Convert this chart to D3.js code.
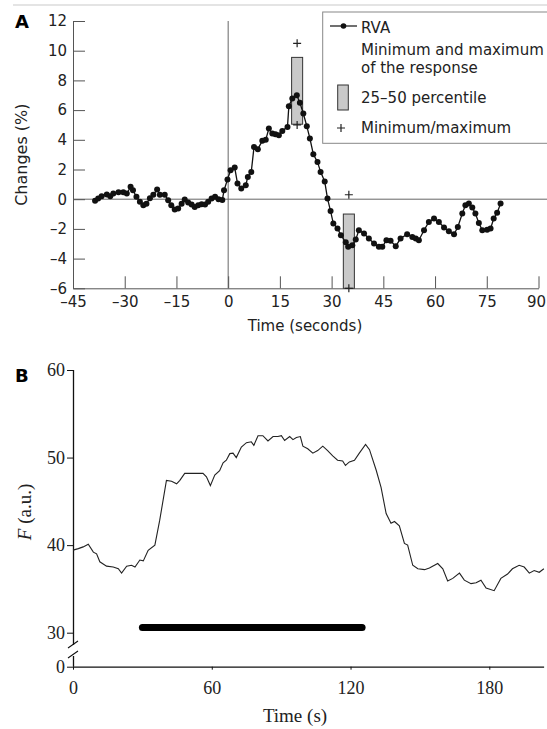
<!DOCTYPE html>
<html>
<head>
<meta charset="utf-8">
<script src="https://cdn.jsdelivr.net/npm/d3@7"></script>
<style>
  body { margin: 0; background: #fff; }
  svg { display: block; }
</style>
</head>
<body>
<div id="chart"></div>
<script>
// panel A : RVA changes (%)
const rvaTime = [-38.6, -37.7, -36.7, -35.2, -34.2, -33.3, -31.8, -30.4, -29.4, -28.3, -27.6, -26.6, -25.6, -24.6, -23.7,
  -22.7, -21.7, -20.6, -19.8, -18.4, -17.4, -16.5, -15.5, -14.5, -13.5, -12.6, -11.6, -10.6, -9.7, -8.7, -7.7, -6.7,
  -5.8, -4.8, -3.8, -2.8, -1.7, -1.2, -0.2, 0.7, 1.9, 2.7, 3.8, 5.1, 5.7, 6.7, 7.5, 8.6, 9.9, 10.9, 11.8, 12.8, 13.7,
  14.7, 15.7, 17.2, 17.6, 18.6, 19.9, 20.8, 21.8, 22.8, 23.7, 24.7, 25.9, 26.8, 28.0, 28.8, 29.7, 30.5, 31.7, 32.7,
  34.1, 34.8, 36.0, 37.0, 37.9, 39.4, 40.8, 42.3, 43.7, 44.7, 45.9, 47.1, 48.6, 50.0, 51.9, 53.4, 54.4, 55.3, 56.8,
  58.2, 59.7, 61.1, 62.6, 64.0, 65.5, 66.6, 67.9, 68.8, 69.8, 70.8, 71.7, 72.7, 73.7, 75.1, 76.1, 77.0, 78.0, 79.0];
const rvaChange = [-0.11, 0.05, 0.2, 0.32, 0.2, 0.38, 0.47, 0.47, 0.38, 0.83, 0.6, 0.16, -0.18, -0.4, -0.3,
  0.07, 0.3, 0.65, 0.3, 0.3, -0.07, -0.4, -0.7, -0.63, -0.3, -0.02, -0.22, -0.36, -0.52, -0.4, -0.34, -0.36,
  -0.18, 0.05, 0.16, 0.0, -0.05, 0.6, 1.33, 1.95, 2.13, 1.06, 0.72, 0.94, 1.5, 1.84, 3.52, 3.37, 3.93, 4.0, 4.76, 4.42, 4.38,
  4.3, 4.6, 4.87, 6.26, 6.78, 7.0, 6.49, 5.77, 4.92, 4.09, 3.03, 2.51, 1.84, 1.2, 0.05, -0.8, -1.64, -1.97, -2.42,
  -2.9, -3.21, -3.1, -2.72, -2.09, -2.31, -2.65, -2.98, -3.21, -3.21, -2.76, -2.8, -3.16, -2.65, -2.36, -2.54, -2.65, -2.76, -2.09,
  -1.53, -1.3, -1.53, -1.91, -2.16, -2.36, -1.87, -0.96, -0.4, -0.29, -0.56, -0.96, -1.6, -2.09, -2.05, -1.98, -1.3, -0.92, -0.29];

// 25-50 percentile boxes and min / max of the response
const boxTime = [20, 35];
const boxLow = [5.05, -6];
const boxHigh = [9.55, -1];
const respMin = [5.0, -6];
const respMax = [10.5, 0.3];

const aXTicks = [-45, -30, -15, 0, 15, 30, 45, 60, 75, 90];
const aYTicks = [-6, -4, -2, 0, 2, 4, 6, 8, 10, 12];
const legendLines = ["RVA", "Minimum and maximum", "of the response", "25\u201350 percentile", "Minimum/maximum"];

// panel B : F (a.u.)
const fTime = [0, 2.3, 4.4, 6.6, 8.8, 10.2, 11.6, 14.5, 17.4, 19.6, 21, 23.2, 25.3, 26.8, 28.9, 30.4, 32.5, 35.4, 37.5,
  40.4, 42.6, 44.8, 46.2, 48.3, 51.2, 54.1, 56.2, 57.7, 59.4, 61.3, 63.4, 64.9, 66.3, 67.8, 69.2, 70.6, 72.8, 75, 77.1,
  78.2, 80, 82.1, 84.3, 86.5, 88.6, 90.1, 91.5, 93.7, 95.1, 96.6, 98.3, 99.4, 101.5, 103.7, 105.8, 108, 110.1, 112.3,
  114.4, 116.6, 117.8, 119.5, 121.7, 123.8, 126.5, 128.2, 131.1, 133.2, 135.4, 137.5, 139, 141.1, 143.3, 144.7, 146.9,
  149.1, 152, 154.1, 157.7, 159.9, 162, 164.2, 167.1, 169.2, 172.1, 174.3, 176.4, 178.6, 182.1, 185, 187.9, 190, 192.9,
  195.1, 197.3, 199.4, 201.6, 203.6];
const fValue = [39.43, 39.6, 39.8, 40.1, 39.2, 39.0, 38.1, 37.6, 37.5, 37.3, 36.8, 37.6, 37.7, 37.5, 38.3, 38.2, 39.4, 40.0, 42.85,
  47.4, 47.3, 47.0, 47.4, 48.2, 48.2, 48.2, 48.2, 47.8, 46.8, 48.0, 48.5, 49.4, 49.7, 50.45, 50.5, 50.0, 51.2, 51.7, 51.8,
  51.4, 52.5, 52.5, 51.9, 52.4, 52.4, 52.5, 51.95, 52.4, 52.05, 52.3, 52.4, 51.3, 51.0, 50.5, 50.8, 51.3, 50.8, 50.2,
  49.7, 49.6, 49.1, 49.5, 49.7, 50.5, 51.5, 50.9, 48.55, 46.6, 43.6, 42.5, 42.7, 42.2, 40.2, 40.0, 37.7,
  37.3, 37.2, 37.4, 37.9, 37.3, 35.9, 36.2, 36.8, 36.0, 35.6, 35.7, 36.0, 35.1, 34.8, 36.2, 36.7, 37.3, 37.7,
  37.5, 36.8, 37.1, 36.9, 37.3];
const stimStart = 30;
const stimEnd = 125;
const stimLevel = 30.6;
const bXTicks = [0, 60, 120, 180];
const bYTicks = [0, 30, 40, 50, 60];

const w = 547, h = 729;
const sans = '"DejaVu Sans", sans-serif';
const serif = '"Liberation Serif", "DejaVu Serif", serif';

const svg = d3.select('#chart').append('svg')
  .attr('width', w)
  .attr('height', h);

// faint rule at the very top
svg.append('line')
  .attr('x1', 13).attr('x2', w).attr('y1', 5).attr('y2', 5)
  .attr('stroke', '#e4e4e4').attr('stroke-width', 2);

// ---------- panel A ----------
const xA = d3.scaleLinear().domain([-45, 90]).range([73, 538.5]);
const yA = d3.scaleLinear().domain([-6, 12]).range([288.3, 21]);
const dash = d => d < 0 ? '\u2013' + Math.abs(d) : String(d);

const gA = svg.append('g');

gA.append('text')
  .attr('x', 15).attr('y', 28)
  .attr('font-family', sans).attr('font-weight', 'bold').attr('font-size', 18)
  .text('A');

// reference lines at t = 0 and 0 %
gA.append('line')
  .attr('x1', xA(0)).attr('x2', xA(0)).attr('y1', yA(12)).attr('y2', yA(-6))
  .attr('stroke', '#666').attr('stroke-width', 1);
gA.append('line')
  .attr('x1', xA(-45)).attr('x2', w).attr('y1', yA(0)).attr('y2', yA(0))
  .attr('stroke', '#666').attr('stroke-width', 1);

const axA_x = gA.append('g')
  .attr('transform', `translate(0,${yA(-6)})`)
  .call(d3.axisBottom(xA).tickValues(aXTicks).tickFormat(dash).tickSizeInner(-12).tickSizeOuter(0).tickPadding(8.5));
const axA_y = gA.append('g')
  .attr('transform', `translate(${xA(-45)},0)`)
  .call(d3.axisLeft(yA).tickValues(aYTicks).tickFormat(dash).tickSizeInner(-12).tickSizeOuter(0).tickPadding(6));
[axA_x, axA_y].forEach(ax => {
  ax.select('.domain').attr('stroke', '#555');
  ax.selectAll('.tick line').attr('stroke', '#555');
  ax.selectAll('.tick text').attr('font-family', sans).attr('font-size', 15).attr('fill', '#222');
});
// keep the last label inside the page
axA_x.selectAll('.tick text').filter(d => d === 90).attr('dx', -2.5);

gA.append('text')
  .attr('x', 305).attr('y', 331)
  .attr('text-anchor', 'middle')
  .attr('font-family', sans).attr('font-size', 15).attr('fill', '#222')
  .text('Time (seconds)');
gA.append('text')
  .attr('transform', `translate(27,${(yA(12) + yA(-6)) / 2}) rotate(-90)`)
  .attr('text-anchor', 'middle')
  .attr('font-family', sans).attr('font-size', 16).attr('fill', '#222')
  .text('Changes (%)');

// percentile boxes
const boxW = 3.2;
gA.selectAll('rect.box')
  .data(boxTime)
  .enter()
  .append('rect')
  .attr('class', 'box')
  .attr('x', d => xA(d - boxW / 2))
  .attr('width', d => xA(d + boxW / 2) - xA(d - boxW / 2))
  .attr('y', (d, i) => yA(boxHigh[i]))
  .attr('height', (d, i) => yA(boxLow[i]) - yA(boxHigh[i]))
  .attr('fill', '#c9c9c9').attr('stroke', '#333').attr('stroke-width', 1);

const plus = (g, x, y) => {
  g.append('path')
    .attr('d', `M${x - 4},${y}H${x + 4}M${x},${y - 4}V${y + 4}`)
    .attr('stroke', '#222').attr('stroke-width', 1.2);
};
boxTime.forEach((t, i) => {
  plus(gA, xA(t), yA(respMax[i]));
  plus(gA, xA(t), yA(respMin[i]));
});

// RVA line + dots
const rva = rvaTime.map((t, i) => [t, rvaChange[i]]);
gA.append('path')
  .datum(rva)
  .attr('d', d3.line().x(d => xA(d[0])).y(d => yA(d[1])))
  .attr('fill', 'none').attr('stroke', '#111').attr('stroke-width', 1.3);
gA.selectAll('circle.rva')
  .data(rva)
  .enter()
  .append('circle')
  .attr('class', 'rva')
  .attr('cx', d => xA(d[0]))
  .attr('cy', d => yA(d[1]))
  .attr('r', 3)
  .attr('fill', '#111');

// legend
const lg = gA.append('g');
lg.append('rect')
  .attr('x', 322.7).attr('y', 12).attr('width', 240).attr('height', 131.3)
  .attr('fill', '#fff').attr('stroke', '#888').attr('stroke-width', 1);
lg.append('line')
  .attr('x1', 330).attr('x2', 357).attr('y1', 26).attr('y2', 26)
  .attr('stroke', '#111').attr('stroke-width', 1.2);
lg.append('circle').attr('cx', 343.5).attr('cy', 26).attr('r', 2.8).attr('fill', '#111');
lg.append('rect')
  .attr('x', 337.7).attr('y', 85).attr('width', 10.6).attr('height', 25)
  .attr('fill', '#c9c9c9').attr('stroke', '#333').attr('stroke-width', 1);
plus(lg, 341, 128);
const legendY = [33, 55, 73, 103, 133];
lg.selectAll('text')
  .data(legendLines)
  .enter()
  .append('text')
  .attr('x', 361)
  .attr('y', (d, i) => legendY[i])
  .attr('font-family', sans).attr('font-size', 15).attr('fill', '#222')
  .text(d => d);

// ---------- panel B ----------
const xB = d3.scaleLinear().domain([0, 180]).range([73, 489.3]);
const yB = d3.scaleLinear().domain([0, 30, 60]).range([666.7, 632.7, 370]);

const gB = svg.append('g');

gB.append('text')
  .attr('x', 15).attr('y', 382)
  .attr('font-family', sans).attr('font-weight', 'bold').attr('font-size', 18)
  .text('B');

const axB_x = gB.append('g')
  .attr('transform', `translate(0,${yB(0)})`)
  .call(d3.axisBottom(xB).tickValues(bXTicks).tickSizeInner(3).tickSizeOuter(0).tickPadding(12));
axB_x.select('.domain').attr('d', `M${xB(0)},0.5H${xB(203.7)}`);

const axB_y = gB.append('g')
  .attr('transform', `translate(${xB(0)},0)`)
  .call(d3.axisLeft(yB).tickValues(bYTicks).tickSizeInner(6).tickSizeOuter(0).tickPadding(2));
// broken y axis between 0 and 30
axB_y.select('.domain').attr('d', `M0.5,${yB(60)}V645M0.5,656V${yB(0)}`);
[axB_x, axB_y].forEach(ax => {
  ax.select('.domain').attr('stroke', '#111').attr('stroke-width', 1.3);
  ax.selectAll('.tick line').attr('stroke', '#111');
  ax.selectAll('.tick text').attr('font-family', serif).attr('font-size', 18).attr('fill', '#222');
});
gB.append('path')
  .attr('d', 'M68,648L78,641M68,658L78,651')
  .attr('stroke', '#111').attr('stroke-width', 1.1).attr('fill', 'none');

gB.append('text')
  .attr('x', 295).attr('y', 722)
  .attr('text-anchor', 'middle')
  .attr('font-family', serif).attr('font-size', 19).attr('fill', '#222')
  .text('Time (s)');
const yLab = gB.append('text')
  .attr('transform', 'translate(31,512) rotate(-90)')
  .attr('text-anchor', 'middle')
  .attr('font-family', serif).attr('font-size', 19).attr('fill', '#222');
yLab.append('tspan').attr('font-style', 'italic').text('F');
yLab.append('tspan').text(' (a.u.)');

// stimulus bar
gB.append('line')
  .attr('x1', xB(stimStart)).attr('x2', xB(stimEnd))
  .attr('y1', yB(stimLevel)).attr('y2', yB(stimLevel))
  .attr('stroke', '#000').attr('stroke-width', 7).attr('stroke-linecap', 'round');

// F trace
gB.append('path')
  .datum(fTime.map((t, i) => [t, fValue[i]]))
  .attr('d', d3.line().x(d => xB(d[0])).y(d => yB(d[1])))
  .attr('fill', 'none').attr('stroke', '#222').attr('stroke-width', 1.1);
</script>
</body>
</html>
